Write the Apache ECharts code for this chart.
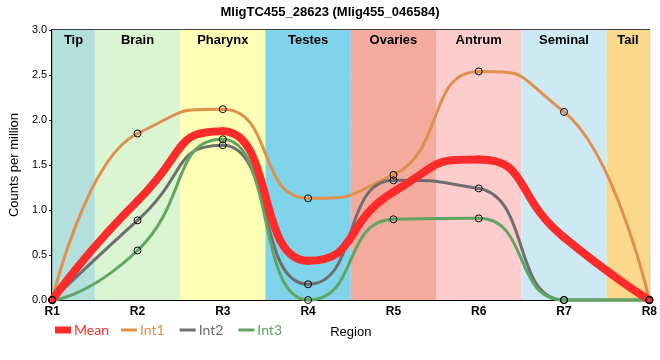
<!DOCTYPE html>
<html><head><meta charset="utf-8">
<script src="https://cdn.jsdelivr.net/npm/echarts@6/dist/echarts.min.js"></script>
<style>html,body{margin:0;padding:0;background:#fff}#c{width:660px;height:360px}</style>
</head><body><div id="c"></div>
<script>
var titleText = 'MligTC455_28623 (Mlig455_046584)';
var regions = ['R1','R2','R3','R4','R5','R6','R7','R8'];
var bandNames = ['Tip','Brain','Pharynx','Testes','Ovaries','Antrum','Seminal','Tail'];
var bandStarts = [1, 1.5, 2.5, 3.5, 4.5, 5.5, 6.5, 7.5];
var bandEnds   = [1.5, 2.5, 3.5, 4.5, 5.5, 6.5, 7.5, 8];
var bandColors = ['#b3dfdc','#d9f5d1','#ffffb6','#7fd4eb','#f4ab9d','#fdcccd','#cdeaf4','#fdd98b'];
var meanVals = [0, 1.10, 1.875, 0.435, 1.20, 1.56, 0.695, 0];
var int1Vals = [0, 1.85, 2.12, 1.13, 1.39, 2.54, 2.09, 0];
var int2Vals = [0, 0.885, 1.72, 0.175, 1.33, 1.24, 0, 0];
var int3Vals = [0, 0.55, 1.785, 0, 0.897, 0.907, 0, 0];
var colors = {Mean:'#ff2a2a', Int1:'#e0904c', Int2:'#6e6e6e', Int3:'#60a563'};
var HANDLE = 0.6; // control-point length as a fraction of the gap between points

function pts(vals){ return vals.map(function(v,i){ return [i+1, v]; }); }

var bandData = bandNames.map(function(n,i){
  return [{name:n, xAxis:bandStarts[i], itemStyle:{color:bandColors[i], opacity:1}}, {xAxis:bandEnds[i]}];
});

// Spline rendering (tangent = neighbour chord, clamped at local extremes) in pixel space via the axes.
function splineSegments(p){
  var a = HANDLE, n = p.length;
  var lc = [], rc = [];
  for (var i = 0; i < n; i++){
    if (i === 0 || i === n-1){ lc[i] = p[i].slice(); rc[i] = p[i].slice(); continue; }
    var x = p[i][0], y = p[i][1], lx = p[i-1][0], ly = p[i-1][1], nx = p[i+1][0], ny = p[i+1][1];
    var slope = (ny - ly)/(nx - lx);
    var lcx = x - a*(x - lx), rcx = x + a*(nx - x);
    var lcy = y - slope*(x - lcx), rcy = y + slope*(rcx - x);
    if (lcy > ly && lcy > y){ lcy = Math.max(ly, y); rcy = 2*y - lcy; }
    else if (lcy < ly && lcy < y){ lcy = Math.min(ly, y); rcy = 2*y - lcy; }
    if (rcy > ny && rcy > y){ rcy = Math.max(ny, y); lcy = 2*y - rcy; }
    else if (rcy < ny && rcy < y){ rcy = Math.min(ny, y); lcy = 2*y - rcy; }
    lc[i] = [lcx, lcy]; rc[i] = [rcx, rcy];
  }
  var segs = [];
  for (var j = 0; j < n-1; j++){
    segs.push({x1:p[j][0], y1:p[j][1], cpx1:rc[j][0], cpy1:rc[j][1], cpx2:lc[j+1][0], cpy2:lc[j+1][1], x2:p[j+1][0], y2:p[j+1][1]});
  }
  return segs;
}

function curveSeries(name, vals, width, z){
  return {
    name:name, type:'custom', data:pts(vals), z:z, silent:true,
    renderItem:function(params, api){
      if (params.dataIndex !== 0) return;
      var p = vals.map(function(v,i){ return api.coord([i+1, v]); });
      var segs = splineSegments(p);
      return {type:'group', children:segs.map(function(s){
        return {type:'bezierCurve', shape:s, style:{stroke:colors[name], lineWidth:width, fill:'none', lineCap:'round', lineJoin:'round'}};
      })};
    }
  };
}

function markerSeries(name, vals){
  return {
    name:name, type:'line', data:pts(vals),
    symbol:'circle', symbolSize:7, showSymbol:true,
    lineStyle:{width:0, opacity:0},
    itemStyle:{color:'rgba(0,0,0,0)', borderColor:'#000', borderWidth:1},
    z:5
  };
}
function legItem(n){ return {name:n, icon:'rect', itemStyle:{color:colors[n], borderWidth:0, borderColor:'transparent'}, textStyle:{color:colors[n]}}; }

var chart = echarts.init(document.getElementById('c'));
chart.setOption({
  animation:false,
  title:{text:titleText, left:'center', top:1, textStyle:{fontFamily:'Liberation Sans, Arial', fontSize:13, fontWeight:'bold', color:'#000'}},
  grid:{left:50, right:9, top:30, bottom:60, show:true, borderColor:'#000', borderWidth:1.5, backgroundColor:'transparent'},
  legend:[
    {data:[legItem('Mean')], padding:0,
     left:55, top:323, itemWidth:16, itemHeight:7, itemGap:4,
     textStyle:{fontSize:14, fontFamily:'Lato, sans-serif', padding:[0,0,0,-2]}},
    {data:['Int1','Int2','Int3'].map(legItem), padding:0,
     left:121, top:323, itemWidth:16, itemHeight:3, itemGap:15,
     textStyle:{fontSize:14, fontFamily:'Lato, sans-serif', padding:[0,0,0,-2]}}
  ],
  xAxis:{type:'value', min:1, max:8, interval:1, name:'Region', nameLocation:'middle', nameGap:26,
    nameTextStyle:{fontSize:13, color:'#000', fontFamily:'Liberation Sans, Arial'},
    axisLine:{lineStyle:{color:'#000', width:2}}, axisTick:{show:false},
    axisLabel:{formatter:function(v){return regions[Math.round(v)-1]||'';}, color:'#000', fontSize:12, fontWeight:'bold', fontFamily:'Liberation Sans, Arial', margin:6},
    splitLine:{show:true, lineStyle:{color:'#c8c8c8', width:1}}},
  yAxis:{type:'value', min:0, max:3, interval:0.5, name:'Counts per million', nameLocation:'middle', nameGap:24,
    nameTextStyle:{fontSize:13, color:'#000', fontFamily:'Liberation Sans, Arial'},
    axisLine:{show:true, lineStyle:{color:'#000', width:2}}, axisTick:{show:true, length:3, lineStyle:{color:'#000'}},
    axisLabel:{formatter:function(v){return v.toFixed(1);}, color:'#000', fontSize:11, fontFamily:'Liberation Sans, Arial', margin:5},
    splitLine:{show:true, lineStyle:{color:'#c8c8c8', width:1}}},
  series:[
    {name:'bands', type:'line', data:[], z:-1, silent:true,
     markArea:{silent:true, data:bandData,
       label:{show:true, position:'insideTop', distance:4, color:'#000', fontSize:13, fontWeight:'bold', fontFamily:'Liberation Sans, Arial'}}},
    curveSeries('Int1', int1Vals, 3, 2),
    curveSeries('Int2', int2Vals, 3, 2),
    curveSeries('Int3', int3Vals, 3, 2),
    curveSeries('Mean', meanVals, 8, 3),
    markerSeries('Int1', int1Vals),
    markerSeries('Int2', int2Vals),
    markerSeries('Int3', int3Vals)
  ]
});
</script></body></html>
